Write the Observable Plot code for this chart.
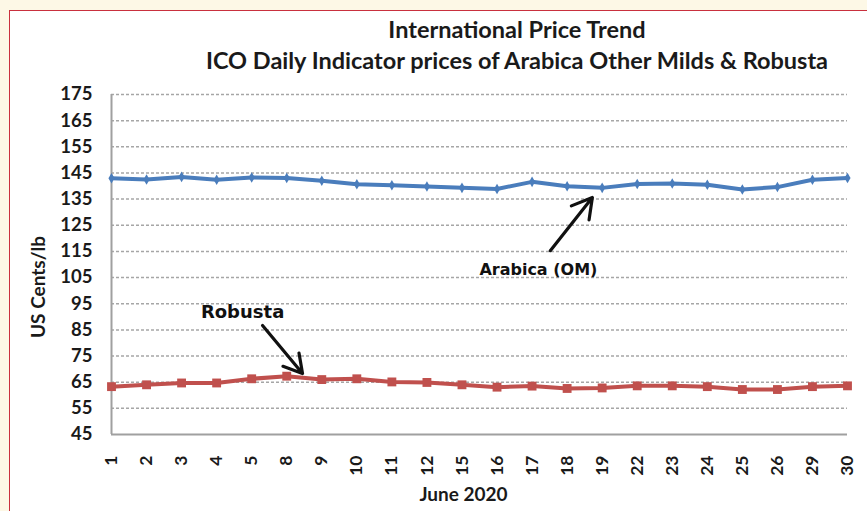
<!DOCTYPE html>
<html>
<head>
<meta charset="utf-8">
<script src="https://cdn.jsdelivr.net/npm/d3@7"></script>
<script src="https://cdn.jsdelivr.net/npm/@observablehq/plot@0.6"></script>
<style>
  html, body { margin: 0; padding: 0; width: 867px; height: 511px; overflow: hidden; background: #fdf8e6; }
  #frame { position: absolute; left: 9px; top: 10px; width: 900px; height: 540px; border: 1.5px solid #c9303e; background: #fff; }
  #title { position: absolute; left: 167px; top: 14px; width: 700px; text-align: center; font-family: Lato, sans-serif; font-weight: bold; font-size: 23.5px; line-height: 31px; color: #1a1a1a; }
  #ylabel { position: absolute; left: 37px; top: 287px; transform: translate(-50%, -50%) rotate(-90deg); white-space: nowrap; font-family: Lato, sans-serif; font-weight: bold; font-size: 19px; color: #1a1a1a; }
  #chart { position: absolute; left: 0; top: 76px; }
</style>
</head>
<body>
<div id="frame"></div>
<div id="title">International Price Trend<br>ICO Daily Indicator prices of Arabica Other Milds &amp; Robusta</div>
<div id="chart"></div>
<div id="ylabel">US Cents/lb</div>
<script>
const days = ["1","2","3","4","5","8","9","10","11","12","15","16","17","18","19","22","23","24","25","26","29","30"];
const arabica = [143.0,142.5,143.5,142.4,143.3,143.1,142.0,140.7,140.3,139.8,139.3,138.9,141.6,139.9,139.3,140.8,141.0,140.5,138.7,139.6,142.4,143.1];
const robusta = [63.3,64.0,64.7,64.7,66.3,67.3,66.0,66.3,65.1,64.9,64.0,63.1,63.5,62.6,62.8,63.6,63.6,63.3,62.2,62.2,63.3,63.6];
const yTicks = d3.range(45, 176, 10);

const noteText = ["Arabica (OM)", "Robusta"];
const noteX = [12.18, 3.74];
const noteY = [108.1, 91.6];
const arrowX1 = [12.52, 4.31];
const arrowY1 = [115.3, 86.7];
const arrowX2 = [13.72, 5.45];
const arrowY2 = [135.6, 68.3];

const idx = days.map((d, i) => i);
const aData = idx.map(i => ({i, v: arabica[i]}));
const rData = idx.map(i => ({i, v: robusta[i]}));
const notes = noteText.map((t, k) => ({t, x: noteX[k], y: noteY[k]}));
const arrows = arrowX1.map((x1, k) => ({x1, y1: arrowY1[k], x2: arrowX2[k], y2: arrowY2[k]}));

const blue = "#4a7dbc", red = "#c0504d";
const font = "Lato, sans-serif";

const chart = Plot.plot({
  width: 867,
  height: 435,
  marginLeft: 111,
  marginRight: 20,
  marginTop: 18,
  marginBottom: 77,
  style: {fontFamily: font, fontWeight: "bold", color: "#1a1a1a", background: "transparent", overflow: "visible"},
  x: {type: "linear", domain: [0, days.length - 1]},
  y: {domain: [45, 175]},
  marks: [
    Plot.ruleY(yTicks.filter(t => t > 45), {stroke: "#a6a6a6", strokeWidth: 1.5, strokeDasharray: "3,2"}),
    Plot.ruleY([45], {stroke: "#a0a0a0", strokeWidth: 2}),
    Plot.ruleX([0], {stroke: "#a0a0a0", strokeWidth: 2}),
    Plot.axisY({ticks: yTicks, tickSize: 0, tickPadding: 19, fontSize: 18.5, label: null}),
    Plot.axisX({ticks: idx, tickFormat: i => days[i], tickRotate: -90, tickSize: 0, tickPadding: 21, fontSize: 17.5, label: null}),
    Plot.text(["June 2020"], {frameAnchor: "bottom", dy: 66, dx: -16, fontSize: 19, fontWeight: "bold", fill: "#1a1a1a"}),
    Plot.line(aData, {x: "i", y: "v", stroke: blue, strokeWidth: 4}),
    Plot.dot(aData, {x: "i", y: "v", symbol: "diamond", r: 3.2, fill: blue}),
    Plot.line(rData, {x: "i", y: "v", stroke: red, strokeWidth: 4}),
    Plot.dot(rData, {x: "i", y: "v", symbol: "square", r: 5, fill: red}),
    Plot.arrow(arrows, {x1: "x1", y1: "y1", x2: "x2", y2: "y2", stroke: "#111", strokeWidth: 3.2, headLength: 15}),
    Plot.text(notes.slice(0, 1), {x: "x", y: "y", text: "t", fontFamily: "DejaVu Sans", fontWeight: "bold", fontSize: 16, fill: "#111"}),
    Plot.text(notes.slice(1), {x: "x", y: "y", text: "t", fontFamily: "DejaVu Sans", fontWeight: "bold", fontSize: 18, fill: "#111"})
  ]
});
document.getElementById("chart").appendChild(chart);
</script>
</body>
</html>
